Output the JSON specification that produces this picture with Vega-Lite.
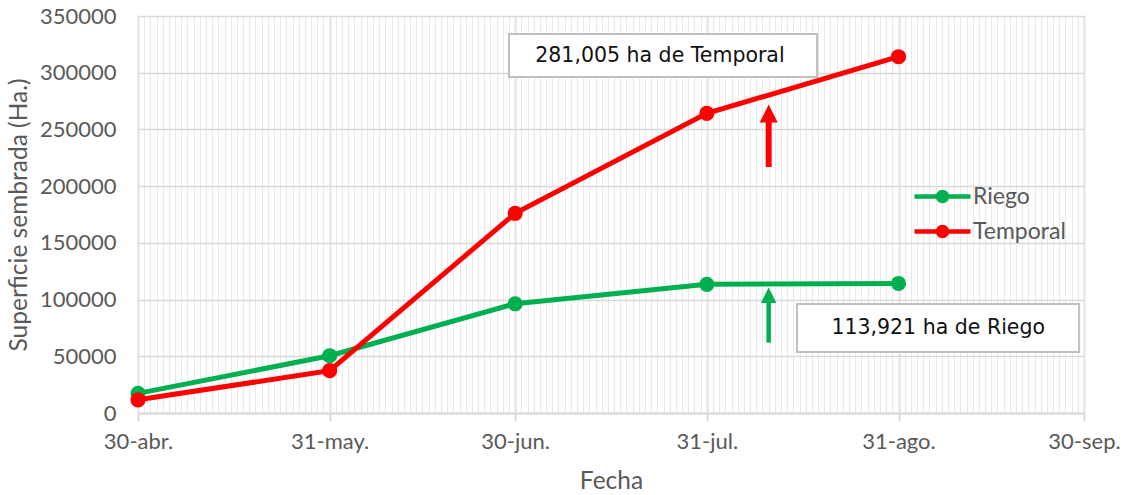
{
  "$schema": "https://vega.github.io/schema/vega-lite/v6.json",
  "width": 946,
  "height": 397,
  "autosize": {"type": "none"},
  "padding": {"left": 138, "top": 16, "right": 43, "bottom": 82},
  "background": "white",
  "config": {"view": {"stroke": null}},
  "datasets": {
    "series": [
      {"fecha": "2023-04-30", "serie": "Riego", "valor": 17300},
      {"fecha": "2023-05-31", "serie": "Riego", "valor": 50500},
      {"fecha": "2023-06-30", "serie": "Riego", "valor": 96300},
      {"fecha": "2023-07-31", "serie": "Riego", "valor": 113400},
      {"fecha": "2023-08-31", "serie": "Riego", "valor": 114200},
      {"fecha": "2023-04-30", "serie": "Temporal", "valor": 11600},
      {"fecha": "2023-05-31", "serie": "Temporal", "valor": 37300},
      {"fecha": "2023-06-30", "serie": "Temporal", "valor": 176000},
      {"fecha": "2023-07-31", "serie": "Temporal", "valor": 264200},
      {"fecha": "2023-08-31", "serie": "Temporal", "valor": 314100}
    ],
    "cajas": [
      {"serie": "Temporal", "x1": "2023-06-29T00:00:00Z", "x2": "2023-08-17T20:00:00Z", "y1": 296222, "y2": 334131, "xt": "2023-07-23T10:00:00Z", "yt": 315176, "texto": "281,005 ha de Temporal"},
      {"serie": "Riego", "x1": "2023-08-14T14:00:00Z", "x2": "2023-09-29T05:00:00Z", "y1": 53778, "y2": 96096, "xt": "2023-09-06T10:00:00Z", "yt": 74937, "texto": "113,921 ha de Riego"}
    ],
    "flechas": [
      {"serie": "Temporal", "fecha": "2023-08-10", "cola": 216900, "base": 258300, "punta": 264000},
      {"serie": "Riego", "fecha": "2023-08-10", "cola": 62000, "base": 99600, "punta": 103850}
    ]
  },
  "resolve": {"axis": {"x": "independent"}},
  "layer": [
    {
      "data": {"name": "series"},
      "mark": {"type": "line", "strokeWidth": 5},
      "encoding": {
        "x": {
          "field": "fecha", "type": "temporal",
          "scale": {"type": "utc", "nice": false, "domain": [{"year": 2023, "month": 4, "date": 30, "utc": true}, {"year": 2023, "month": 9, "date": 30, "utc": true}]},
          "axis": {
            "values": [
              {"year": 2023, "month": 4, "date": 30, "utc": true},
              {"year": 2023, "month": 5, "date": 31, "utc": true},
              {"year": 2023, "month": 6, "date": 30, "utc": true},
              {"year": 2023, "month": 7, "date": 31, "utc": true},
              {"year": 2023, "month": 8, "date": 31, "utc": true},
              {"year": 2023, "month": 9, "date": 30, "utc": true}
            ],
            "labelExpr": "utcdate(datum.value) + '-' + ['ene','feb','mar','abr','may','jun','jul','ago','sep','oct','nov','dic'][utcmonth(datum.value)] + '.'",
            "grid": true, "gridColor": "#d9d9d9", "gridWidth": 2,
            "domainColor": "#d9d9d9", "domainWidth": 2,
            "tickColor": "#d9d9d9", "tickSize": 8, "tickWidth": 2,
            "labelFont": "Lato", "labelFontSize": 22, "labelColor": "#595959", "labelPadding": 10,
            "labelOverlap": false, "labelFlush": false,
            "title": "Fecha", "titleFont": "Lato", "titleFontSize": 24.5, "titleFontWeight": "normal", "titleColor": "#595959", "titlePadding": 17
          }
        },
        "y": {
          "field": "valor", "type": "quantitative",
          "scale": {"domain": [0, 350000], "nice": false},
          "axis": {
            "values": [0, 50000, 100000, 150000, 200000, 250000, 300000, 350000],
            "format": "d",
            "grid": true, "gridColor": "#d9d9d9", "gridWidth": 1.5,
            "domain": false, "ticks": false,
            "labelFont": "Lato", "labelFontSize": 22, "labelColor": "#595959", "labelPadding": 22,
            "title": "Superficie sembrada (Ha.)", "titleFont": "Lato", "titleFontSize": 24.5, "titleFontWeight": "normal", "titleColor": "#595959", "titlePadding": 8
          }
        },
        "color": {
          "field": "serie", "type": "nominal",
          "scale": {"domain": ["Riego", "Temporal"], "range": ["#00b050", "#ff0000"]},
          "legend": {
            "orient": "none", "legendX": 793, "legendY": 169,
            "title": null,
            "symbolType": "M-4,0L4,0M-0.65,0A0.65,0.65,0,1,0,0.65,0A0.65,0.65,0,1,0,-0.65,0",
            "symbolSize": 196, "symbolStrokeWidth": 4.5,
            "labelFont": "Lato", "labelFontSize": 23, "labelColor": "#595959", "labelOffset": 19,
            "rowPadding": 6,
            "encode": {"symbols": {"update": {"fill": {"scale": "color", "field": "value"}, "stroke": {"scale": "color", "field": "value"}, "opacity": {"value": 1}}}}
          }
        }
      }
    },
    {
      "data": {"name": "series"},
      "mark": {"type": "point", "filled": true, "size": 230, "opacity": 1},
      "encoding": {
        "x": {
          "field": "fecha", "type": "temporal",
          "scale": {"type": "utc", "nice": false, "domain": [{"year": 2023, "month": 4, "date": 30, "utc": true}, {"year": 2023, "month": 9, "date": 30, "utc": true}]},
          "axis": {"orient": "top", "grid": true, "gridColor": "#e9e9e9", "gridWidth": 1, "labels": false, "ticks": false, "domain": false, "title": null, "tickCount": {"interval": "day", "step": 1}}
        },
        "y": {"field": "valor", "type": "quantitative"},
        "color": {"field": "serie", "type": "nominal"}
      }
    },
    {
      "data": {"name": "flechas"},
      "transform": [{"filter": "datum.serie === 'Temporal'"}],
      "mark": {"type": "rule", "strokeWidth": 6},
      "encoding": {
        "x": {"field": "fecha", "type": "temporal", "axis": null},
        "y": {"field": "cola", "type": "quantitative"},
        "y2": {"field": "base"},
        "color": {"field": "serie", "type": "nominal"}
      }
    },
    {
      "data": {"name": "flechas"},
      "transform": [{"filter": "datum.serie === 'Temporal'"}],
      "mark": {"type": "point", "shape": "M0,-1L1,1L-1,1Z", "filled": true, "size": 324, "opacity": 1},
      "encoding": {
        "x": {"field": "fecha", "type": "temporal", "axis": null},
        "y": {"field": "punta", "type": "quantitative"},
        "color": {"field": "serie", "type": "nominal"}
      }
    },
    {
      "data": {"name": "flechas"},
      "transform": [{"filter": "datum.serie === 'Riego'"}],
      "mark": {"type": "rule", "strokeWidth": 4.5},
      "encoding": {
        "x": {"field": "fecha", "type": "temporal", "axis": null},
        "y": {"field": "cola", "type": "quantitative"},
        "y2": {"field": "base"},
        "color": {"field": "serie", "type": "nominal"}
      }
    },
    {
      "data": {"name": "flechas"},
      "transform": [{"filter": "datum.serie === 'Riego'"}],
      "mark": {"type": "point", "shape": "M0,-1L1,1L-1,1Z", "filled": true, "size": 243, "opacity": 1},
      "encoding": {
        "x": {"field": "fecha", "type": "temporal", "axis": null},
        "y": {"field": "punta", "type": "quantitative"},
        "color": {"field": "serie", "type": "nominal"}
      }
    },
    {
      "data": {"name": "cajas"},
      "mark": {"type": "rect", "fill": "white", "stroke": "#bfbfbf", "strokeWidth": 2},
      "encoding": {
        "x": {"field": "x1", "type": "temporal", "axis": null},
        "x2": {"field": "x2"},
        "y": {"field": "y1", "type": "quantitative"},
        "y2": {"field": "y2"}
      }
    },
    {
      "data": {"name": "cajas"},
      "mark": {"type": "text", "font": "DejaVu Sans", "fontSize": 20.5, "color": "#111111", "align": "center", "baseline": "middle"},
      "encoding": {
        "x": {"field": "xt", "type": "temporal", "axis": null},
        "y": {"field": "yt", "type": "quantitative"},
        "text": {"field": "texto"}
      }
    }
  ]
}
